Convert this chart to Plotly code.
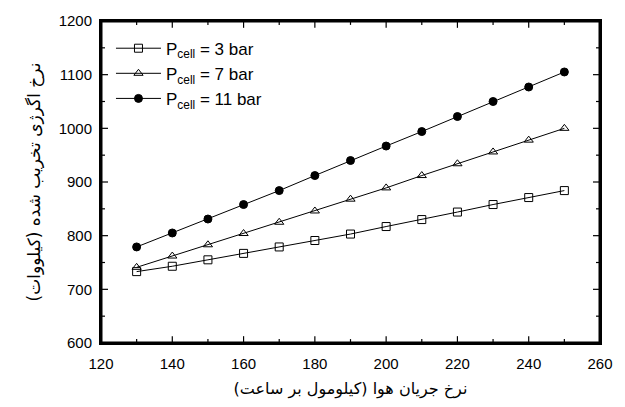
import plotly.graph_objects as go

x_vals = [130, 140, 150, 160, 170, 180, 190, 200, 210, 220, 230, 240, 250]
p3 = [733, 743, 755, 767, 779, 791, 803, 817, 830, 844, 858, 871, 884]
p7 = [741, 762, 783, 804, 825, 846, 868, 889, 912, 934, 956, 978, 1000]
p11 = [779, 805, 831, 858, 884, 912, 940, 967, 994, 1022, 1050, 1077, 1105]
names = ["P<sub>cell</sub> = 3 bar", "P<sub>cell</sub> = 7 bar", "P<sub>cell</sub> = 11 bar"]
x_title = "نرخ جریان هوا (کیلومول بر ساعت)"
y_title = "نرخ اگرژی تخریب شده (کیلووات)"
x_range = [120, 260]
y_range = [600, 1200]
x_major, x_minor = 20, 10
y_major, y_minor = 100, 50

fig = go.Figure()
styles = [
    dict(symbol="square-open", size=8),
    dict(symbol="triangle-up-open", size=8),
    dict(symbol="circle", size=8),
]
for ys, nm, st in zip([p3, p7, p11], names, styles):
    fig.add_trace(go.Scatter(
        x=x_vals, y=ys, name=nm, mode="lines+markers",
        line=dict(color="black", width=1),
        marker=dict(color="black", line=dict(color="black", width=1), **st),
    ))

# frame and inside ticks drawn from the axis ranges (clipped to plot area)
x0, x1 = x_range
y0, y1 = y_range
plot_w_px, plot_h_px = 499, 330
xpx = (x1 - x0) / plot_w_px
ypx = (y1 - y0) / plot_h_px
fig.add_trace(go.Scatter(x=[x0, x1, x1, x0, x0], y=[y0, y0, y1, y1, y0], mode="lines",
                         line=dict(color="black", width=3), showlegend=False, hoverinfo="skip"))
tx, ty = [], []
v = x0
while v <= x1:
    ln = 7 if (v - x0) % x_major == 0 else 4
    tx += [v, v, None, v, v, None]
    ty += [y0, y0 + ln * ypx, None, y1, y1 - ln * ypx, None]
    v += x_minor
v = y0
while v <= y1:
    ln = 7 if (v - y0) % y_major == 0 else 4
    tx += [x0, x0 + ln * xpx, None, x1, x1 - ln * xpx, None]
    ty += [v, v, None, v, v, None]
    v += y_minor
fig.add_trace(go.Scatter(x=tx, y=ty, mode="lines", line=dict(color="black", width=1.2),
                         showlegend=False, hoverinfo="skip"))

tickfont = dict(family="Liberation Sans", size=15, color="black")
common = dict(showline=True, linecolor="black", linewidth=2, mirror=True,
              ticks="", showgrid=False, zeroline=False, tickfont=tickfont)

fig.update_layout(
    width=625, height=407,
    margin=dict(l=101, r=25, t=17, b=60),
    plot_bgcolor="white", paper_bgcolor="white",
    xaxis=dict(range=x_range, dtick=x_major, tick0=x0, ticklabelstandoff=6,
               title=dict(text=x_title, font=dict(family="DejaVu Sans", size=16, color="black"), standoff=12),
               **common),
    yaxis=dict(range=y_range, dtick=y_major, tick0=y0, ticklabelstandoff=4,
               title=dict(text=y_title, font=dict(family="DejaVu Sans", size=17, color="black"), standoff=14),
               **common),
    legend=dict(x=0.02, y=0.97, xanchor="left", yanchor="top",
                bgcolor="rgba(0,0,0,0)",
                font=dict(family="Liberation Sans", size=17, color="black"),
                itemwidth=45, tracegroupgap=4),
    showlegend=True,
)
fig.write_html("out.html")
